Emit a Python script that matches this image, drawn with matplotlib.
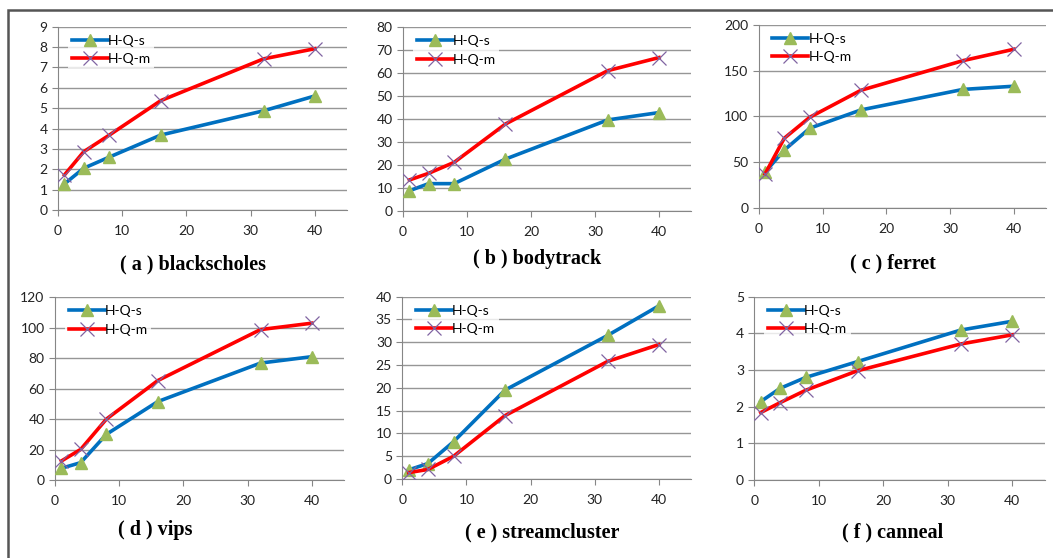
import numpy as np
import matplotlib
matplotlib.use("Agg")
import matplotlib.pyplot as plt
from matplotlib.patches import Rectangle

# thread counts on the x axis
threads = [1, 4, 8, 16, 32, 40]

# (a) blackscholes
bs_s = [1.28, 2.05, 2.6, 3.68, 4.87, 5.6]
bs_m = [1.72, 2.86, 3.68, 5.37, 7.42, 7.92]
# (b) bodytrack
bt_s = [8.7, 11.8, 11.8, 22.5, 39.6, 42.8]
bt_m = [13.4, 16.3, 21.1, 37.8, 61.1, 66.8]
# (c) ferret
fe_s = [39, 63, 87, 107, 129.5, 133]
fe_m = [37, 76, 99, 128.5, 161, 173.5]
# (d) vips
vi_s = [7.7, 11.4, 30, 51.5, 76.8, 81]
vi_m = [12.5, 20.1, 40, 65.3, 98.8, 103]
# (e) streamcluster
sc_s = [2.0, 3.4, 8.2, 19.5, 31.5, 38]
sc_m = [1.4, 2.1, 5.0, 13.9, 25.8, 29.5]
# (f) canneal
ca_s = [2.14, 2.5, 2.8, 3.23, 4.09, 4.33]
ca_m = [1.84, 2.11, 2.45, 2.98, 3.71, 3.96]

titles = ["( a ) blackscholes", "( b ) bodytrack", "( c ) ferret",
          "( d ) vips", "( e ) streamcluster", "( f ) canneal"]
series = [(bs_s, bs_m), (bt_s, bt_m), (fe_s, fe_m),
          (vi_s, vi_m), (sc_s, sc_m), (ca_s, ca_m)]
ymax = [9, 80, 200, 120, 40, 5]
ystep = [1, 10, 50, 20, 5, 1]

W, H = 1053, 558
# axes boxes in pixels: left, right, top, bottom
boxes = [(58, 347, 26.7, 210), (403, 691, 27.3, 210.7), (758.7, 1046, 25, 207.7),
         (55, 344, 297.3, 480), (402.3, 691, 296.7, 479), (754.3, 1044.6, 296.7, 480)]
# title centres in pixels
title_pos = [(193, 264), (537, 259), (893, 263), (155, 530), (542, 532), (893, 532)]

BLUE = "#0070C0"
RED = "#FF0000"
GREEN = "#9BBB59"
PURPLE = "#8064A2"
GRID = "#969696"

plt.rcParams['font.family'] = ['Lato', 'DejaVu Sans']

fig = plt.figure(figsize=(W / 100, H / 100), dpi=100)
fig.patch.set_facecolor("white")

# border round the whole figure (runs off right/bottom edge)
fig.patches.append(Rectangle((8 / W, -0.1), 1.2, (H - 10) / H + 0.1,
                             transform=fig.transFigure, fill=False,
                             edgecolor="#555555", linewidth=1.8))

for i in range(6):
    l, r, t, b = boxes[i]
    ax = fig.add_axes([l / W, (H - b) / H, (r - l) / W, (b - t) / H])
    s, m = series[i]
    ax.plot(threads, s, color=BLUE, linewidth=2.6, marker="^", markersize=9,
            markerfacecolor=GREEN, markeredgecolor=GREEN, label="H-Q-s", zorder=3)
    ax.plot(threads, m, color=RED, linewidth=2.6, marker="x", markersize=10,
            markeredgewidth=0.9, markeredgecolor=PURPLE, label="H-Q-m", zorder=3)
    ax.set_xlim(0, 45)
    ax.set_ylim(0, ymax[i])
    ax.set_xticks([0, 10, 20, 30, 40])
    ax.set_yticks(np.arange(0, ymax[i] + 0.1, ystep[i]))
    ax.yaxis.grid(True, color=GRID, linewidth=1.0)
    ax.set_axisbelow(True)
    for sp in ["top", "right"]:
        ax.spines[sp].set_visible(False)
    for sp in ["left", "bottom"]:
        ax.spines[sp].set_color("#868686")
    ax.tick_params(axis="both", colors="#868686", labelcolor="#222222",
                   labelsize=10, length=4, width=0.8)
    ax.tick_params(axis="x", pad=7)
    leg = ax.legend(loc="upper left", bbox_to_anchor=(0.035, 0.975),
                    frameon=True, fancybox=False, edgecolor="white",
                    fontsize=10, handlelength=2.6, handletextpad=0.0,
                    borderpad=0.25, labelspacing=0.45, borderaxespad=0)
    leg.get_frame().set_linewidth(0)
    fig.text(title_pos[i][0] / W, 1 - title_pos[i][1] / H, titles[i],
             ha="center", va="center", fontsize=14.5, fontweight="bold",
             family="Liberation Serif")

fig.savefig("out.png", dpi=100, facecolor="white")
